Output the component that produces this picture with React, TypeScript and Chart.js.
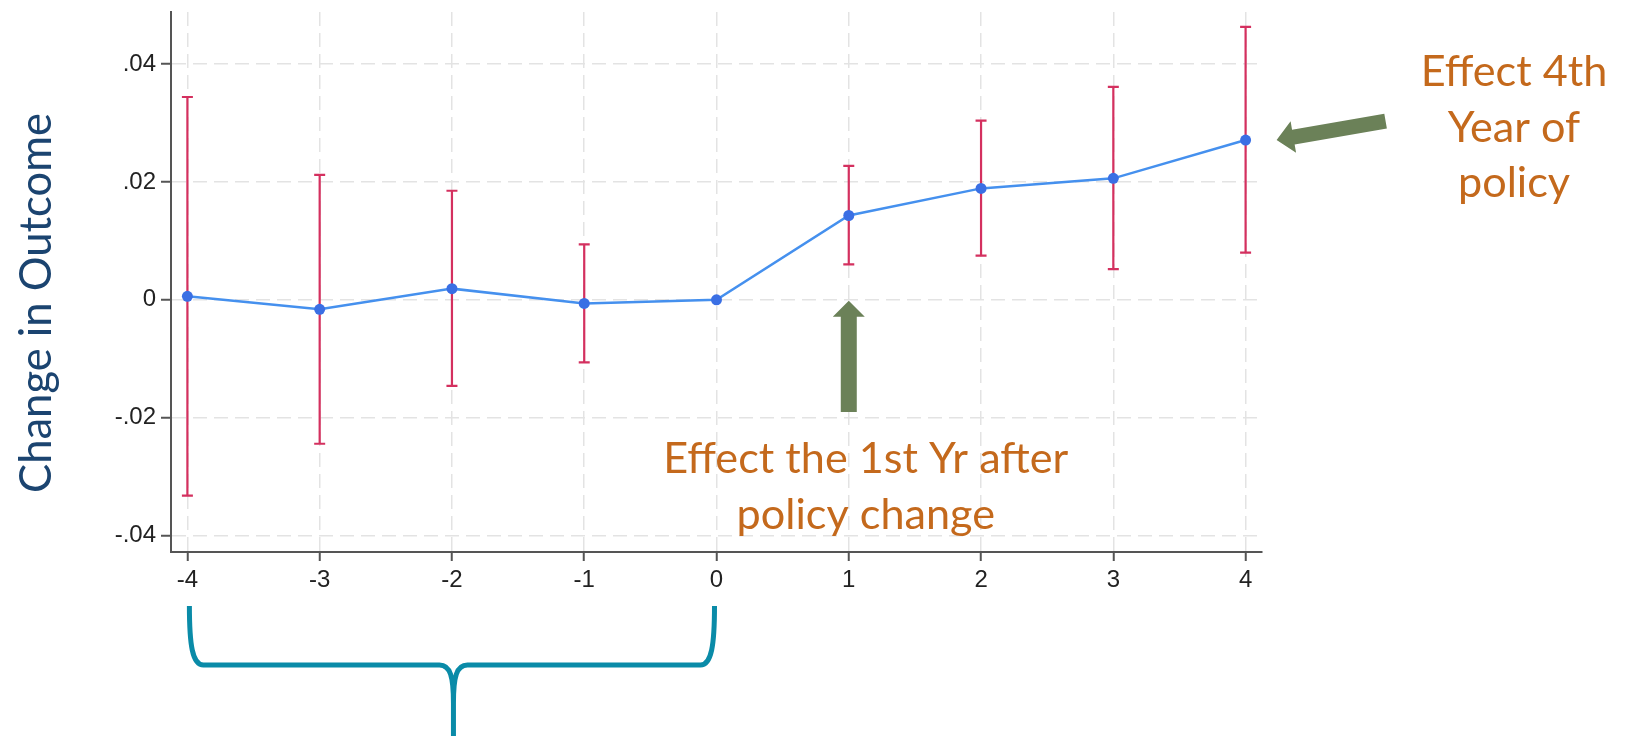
import React, { useEffect, useRef } from "react";
import { Chart, registerables } from "chart.js";

Chart.register(...registerables);

// ---- data ----
const periods = [-4, -3, -2, -1, 0, 1, 2, 3, 4];
const estimates = [0.0006, -0.0016, 0.0019, -0.0006, 0.0, 0.0143, 0.0189, 0.0206, 0.0271];
const ciLower = [-0.0332, -0.0244, -0.0146, -0.0106, null, 0.006, 0.0075, 0.0052, 0.008];
const ciUpper = [0.0344, 0.0212, 0.0185, 0.0094, null, 0.0227, 0.0304, 0.0361, 0.0463];

const xTicks = [-4, -3, -2, -1, 0, 1, 2, 3, 4];
const xTickLabels = ["-4", "-3", "-2", "-1", "0", "1", "2", "3", "4"];
const yTicks = [-0.04, -0.02, 0, 0.02, 0.04];
const yTickLabels = ["-.04", "-.02", "0", ".02", ".04"];

const yAxisTitle = "Change in Outcome";
const noteFirstYear = ["Effect the 1st Yr after", "policy change"];
const noteFourthYear = ["Effect 4th", "Year of", "policy"];
const firstYearPeriod = 1;
const fourthYearPeriod = 4;
const bracketFrom = -4;
const bracketTo = 0;

// ---- styles ----
const LINE_COLOR = "#4590ee";
const POINT_COLOR = "#3a6fe4";
const CI_COLOR = "#d4305f";
const GRID_COLOR = "#e3e3e3";
const AXIS_COLOR = "#555555";
const NOTE_COLOR = "#c4691c";
const ARROW_COLOR = "#6b8158";
const TITLE_COLOR = "#1b4470";
const BRACE_COLOR = "#0a8ba8";
const NOTE_FONT = "Lato";
const TICK_FONT = "'Liberation Sans', Arial, sans-serif";

function fitSize(ctx: CanvasRenderingContext2D, text: string, family: string, target: number) {
  ctx.font = `100px ${family}`;
  const w = ctx.measureText(text).width;
  return (100 * target) / w;
}

function drawArrow(
  ctx: CanvasRenderingContext2D,
  tipX: number, tipY: number, tailX: number, tailY: number,
  shaftHalf: number, headHalf: number, headLen: number, color: string
) {
  const dx = tailX - tipX, dy = tailY - tipY;
  const len = Math.hypot(dx, dy);
  const ux = dx / len, uy = dy / len;
  const nx = -uy, ny = ux;
  const bx = tipX + ux * headLen, by = tipY + uy * headLen;
  ctx.save();
  ctx.fillStyle = color;
  ctx.beginPath();
  ctx.moveTo(tipX, tipY);
  ctx.lineTo(bx + nx * headHalf, by + ny * headHalf);
  ctx.lineTo(bx + nx * shaftHalf, by + ny * shaftHalf);
  ctx.lineTo(tailX + nx * shaftHalf, tailY + ny * shaftHalf);
  ctx.lineTo(tailX - nx * shaftHalf, tailY - ny * shaftHalf);
  ctx.lineTo(bx - nx * shaftHalf, by - ny * shaftHalf);
  ctx.lineTo(bx - nx * headHalf, by - ny * headHalf);
  ctx.closePath();
  ctx.fill();
  ctx.restore();
}

const errorBarPlugin = {
  id: "errorBars",
  beforeDatasetsDraw(chart: any) {
    const { ctx, scales } = chart;
    const xs = scales.x, ys = scales.y;
    ctx.save();
    ctx.strokeStyle = CI_COLOR;
    ctx.lineWidth = 2.2;
    const cap = 5.5;
    periods.forEach((p, i) => {
      const lo = ciLower[i], hi = ciUpper[i];
      if (lo == null || hi == null) return;
      const x = xs.getPixelForValue(p);
      const y1 = ys.getPixelForValue(lo);
      const y2 = ys.getPixelForValue(hi);
      ctx.beginPath();
      ctx.moveTo(x, y1); ctx.lineTo(x, y2);
      ctx.moveTo(x - cap, y1); ctx.lineTo(x + cap, y1);
      ctx.moveTo(x - cap, y2); ctx.lineTo(x + cap, y2);
      ctx.stroke();
    });
    ctx.restore();
  },
};

const annotationPlugin = {
  id: "annotations",
  afterDraw(chart: any) {
    const { ctx, scales } = chart;
    const xs = scales.x, ys = scales.y;

    // y axis title
    ctx.save();
    const tSize = fitSize(ctx, yAxisTitle, NOTE_FONT, 380);
    ctx.font = `${tSize}px ${NOTE_FONT}`;
    ctx.fillStyle = TITLE_COLOR;
    ctx.translate(51, 303);
    ctx.rotate(-Math.PI / 2);
    ctx.textAlign = "center";
    ctx.textBaseline = "alphabetic";
    ctx.fillText(yAxisTitle, 0, 0);
    ctx.restore();

    // notes
    const nSize = fitSize(ctx, noteFirstYear[0], NOTE_FONT, 405);
    ctx.save();
    ctx.font = `${nSize}px ${NOTE_FONT}`;
    ctx.fillStyle = NOTE_COLOR;
    ctx.textAlign = "center";
    ctx.textBaseline = "alphabetic";
    const x1 = xs.getPixelForValue(firstYearPeriod);
    noteFirstYear.forEach((t, i) => ctx.fillText(t, x1 + 17, 473 + i * 56));
    noteFourthYear.forEach((t, i) => ctx.fillText(t, 1514, 86 + i * 55.5));
    ctx.restore();

    // arrows
    const y0 = ys.getPixelForValue(0);
    drawArrow(ctx, x1, y0 + 1, x1, 412, 8, 16, 16, ARROW_COLOR);
    const i4 = periods.indexOf(fourthYearPeriod);
    const x4 = xs.getPixelForValue(fourthYearPeriod);
    const y4 = ys.getPixelForValue(estimates[i4]);
    drawArrow(ctx, x4 + 31, y4, x4 + 140, y4 - 19, 7.5, 16, 17, ARROW_COLOR);

    // brace under pre-period
    const L = xs.getPixelForValue(bracketFrom) + 2;
    const R = xs.getPixelForValue(bracketTo) - 2;
    const C = (xs.getPixelForValue(bracketFrom) + xs.getPixelForValue(bracketTo)) / 2 + 1.5;
    const top = 606, H = 665, bottom = 740;
    ctx.save();
    ctx.strokeStyle = BRACE_COLOR;
    ctx.lineWidth = 5;
    ctx.lineJoin = "round";
    ctx.lineCap = "butt";
    ctx.beginPath();
    ctx.moveTo(L, top);
    ctx.bezierCurveTo(L, H - 20, L + 3, H, L + 14, H);
    ctx.lineTo(C - 14, H);
    ctx.bezierCurveTo(C - 3, H, C, H + 12, C, H + 38);
    ctx.lineTo(C, bottom);
    ctx.moveTo(C, H + 38);
    ctx.bezierCurveTo(C, H + 12, C + 3, H, C + 14, H);
    ctx.lineTo(R - 14, H);
    ctx.bezierCurveTo(R - 3, H, R, H - 20, R, top);
    ctx.stroke();
    ctx.restore();
  },
};

export default function App() {
  const ref = useRef<HTMLCanvasElement | null>(null);

  useEffect(() => {
    if (!ref.current) return;
    const chart = new Chart(ref.current, {
      type: "scatter",
      data: {
        datasets: [
          {
            data: periods.map((p, i) => ({ x: p, y: estimates[i] })),
            showLine: true,
            borderColor: LINE_COLOR,
            borderWidth: 2.5,
            pointRadius: 5.5,
            pointBackgroundColor: POINT_COLOR,
            pointBorderWidth: 0,
            tension: 0,
          },
        ],
      },
      options: {
        animation: false,
        responsive: false,
        layout: { padding: { left: 0, top: 12, right: 364, bottom: 0 } },
        plugins: { legend: { display: false }, tooltip: { enabled: false } },
        scales: {
          x: {
            type: "linear",
            min: -4.124,
            max: 4.124,
            afterBuildTicks: (s: any) => {
              s.ticks = xTicks.map((v) => ({ value: v }));
            },
            afterFit: (s: any) => {
              s.height = 184;
              s.paddingLeft = 0;
              s.paddingRight = 0;
            },
            ticks: {
              callback: (_v: any, i: number) => xTickLabels[i],
              font: { family: TICK_FONT, size: 24 },
              color: "#222222",
              padding: 5,
              autoSkip: false,
              maxRotation: 0,
            },
            grid: { color: GRID_COLOR, lineWidth: 1.5, tickLength: 9, tickColor: AXIS_COLOR, tickWidth: 2 },
            border: { display: true, color: AXIS_COLOR, width: 2, dash: [14, 7] },
          },
          y: {
            type: "linear",
            min: -0.04276,
            max: 0.04881,
            afterBuildTicks: (s: any) => {
              s.ticks = yTicks.map((v) => ({ value: v }));
            },
            afterFit: (s: any) => {
              s.width = 171;
              s.paddingTop = 0;
              s.paddingBottom = 0;
            },
            ticks: {
              callback: (_v: any, i: number) => yTickLabels[i],
              font: { family: TICK_FONT, size: 24 },
              color: "#222222",
              padding: 5,
              autoSkip: false,
            },
            grid: { color: GRID_COLOR, lineWidth: 1.5, tickLength: 10, tickColor: AXIS_COLOR, tickWidth: 2 },
            border: { display: true, color: AXIS_COLOR, width: 2, dash: [14, 7] },
          },
        },
      },
      plugins: [errorBarPlugin, annotationPlugin],
    } as any);
    return () => chart.destroy();
  }, []);

  return (
    <div style={{ position: "fixed", left: 0, top: 0, width: 1626, height: 736, background: "#ffffff" }}>
      <canvas ref={ref} width={1626} height={736} style={{ display: "block", width: 1626, height: 736 }} />
    </div>
  );
}
